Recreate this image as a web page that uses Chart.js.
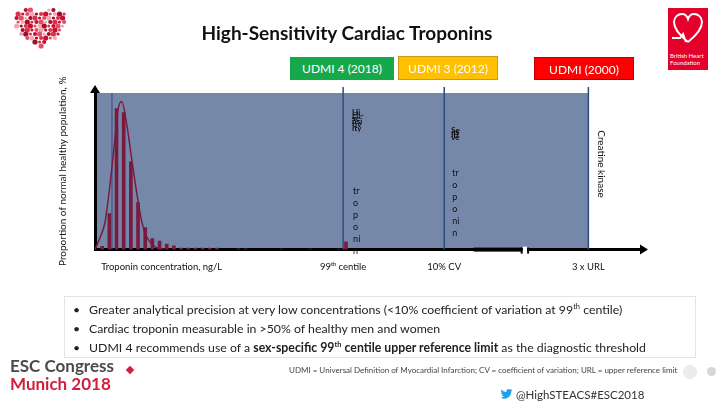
<!DOCTYPE html>
<html>
<head>
<meta charset="utf-8">
<script src="https://cdn.jsdelivr.net/npm/chart.js@4.4.0/dist/chart.umd.min.js"></script>
<style>
body { margin: 0; width: 720px; height: 405px; overflow: hidden; background: #fff; font-family: Lato, sans-serif; position: relative; }
.abs { position: absolute; }
#chart { position: absolute; left: 0; top: 0; }
.title { left: 0; width: 694px; top: 21px; text-align: center; font-weight: bold; font-size: 19px; color: #111; }
.tag { height: 23px; line-height: 23px; text-align: center; color: #fff; font-size: 12px; box-sizing: border-box; }
.bullets { left: 64px; top: 296px; width: 632px; height: 62px; border: 1px solid #e4e4e4; box-sizing: border-box; font-size: 12.3px; color: #222; }
.bullets div { position: absolute; left: 24px; white-space: nowrap; }
.bullets div:before { content: "\2022"; position: absolute; left: -16px; }
sup { font-size: 7.5px; line-height: 0; }
.foot { left: 289px; top: 365px; font-size: 8px; color: #444; white-space: nowrap; }
.esc { left: 10px; top: 357px; font-weight: bold; font-size: 17px; line-height: 18px; color: #4a4a4a; }
.esc span { color: #d11f3c; }
.tw { left: 500px; top: 388px; font-size: 11.5px; color: #333; }
</style>
</head>
<body>
<canvas id="chart" width="720" height="405"></canvas>
<canvas id="heart" class="abs" width="80" height="70" style="left:0;top:0"></canvas>
<div class="abs title">High-Sensitivity Cardiac Troponins</div>
<div class="abs tag" style="left:290px;top:57px;width:104px;background:#17a84b">UDMI 4 (2018)</div>
<div class="abs tag" style="left:398px;top:56px;width:100px;height:24px;background:#ffc000;border:1px solid #c99a1e">UDMI 3 (2012)</div>
<div class="abs tag" style="left:534px;top:57px;width:100px;background:#ff0000;border:1px solid #c00000">UDMI (2000)</div>
<div class="abs" style="left:668px;top:8px;width:40px;height:62px;background:#e4002b">
  <svg width="40" height="44" viewBox="0 0 40 44"><path d="M20 34 C10 26 6 20 6 14 C6 9 10 6 14 6 C17 6 19 8 20 11 C21 8 23 6 26 6 C30 6 34 9 34 14 C34 20 30 26 20 34 M4 30 L12 30 L15 26 L18 34" fill="none" stroke="#fff" stroke-width="2"/></svg>
  <div style="position:absolute;left:2px;top:44px;font-size:6px;line-height:7px;color:#fff">British Heart Foundation</div>
</div>
<div class="abs bullets">
  <div style="top:5px">Greater analytical precision at very low concentrations (&lt;10% coefficient of variation at 99<sup>th</sup> centile)</div>
  <div style="top:24px">Cardiac troponin measurable in &gt;50% of healthy men and women</div>
  <div style="top:43px">UDMI 4 recommends use of a <b>sex-specific 99<sup>th</sup> centile upper reference limit</b> as the diagnostic threshold</div>
</div>
<div class="abs foot">UDMI = Universal Definition of Myocardial Infarction; CV = coefficient of variation; URL = upper reference limit</div>
<div class="abs esc">ESC Congress<br><span>Munich 2018</span></div>
<div class="abs" style="left:127px;top:367px;width:6px;height:6px;background:#d11f3c;transform:rotate(45deg)"></div>
<div class="abs tw"><svg width="13" height="11" viewBox="0 0 24 20" style="vertical-align:-1px"><path d="M23 2c-.8.4-1.7.6-2.6.7.9-.6 1.6-1.4 2-2.5-.9.5-1.9.9-2.9 1.1C18.600.4 17.4 0 16.2 0c-2.500 0-4.500 2-4.500 4.500 0 .4 0 .7.1 1C8 5.3 4.700 3.500 2.500.8c-.4.7-.6 1.400-.6 2.300 0 1.600.8 2.900 2 3.700-.7 0-1.400-.2-2-.6v.1c0 2.200 1.600 4 3.600 4.400-.4.1-.8.2-1.200.2-.3 0-.6 0-.8-.1.6 1.800 2.200 3.100 4.200 3.100-1.500 1.200-3.500 1.900-5.600 1.900H1c2 1.300 4.400 2 6.900 2 8.300 0 12.800-6.900 12.800-12.800v-.6c.9-.6 1.600-1.400 2.300-2.300z" fill="#1da1f2"/></svg> @HighSTEACS#ESC2018</div>
<div class="abs" style="left:683px;top:365px;width:14px;height:14px;border-radius:7px;background:#ececec"></div>
<div class="abs" style="left:707px;top:367px;width:9px;height:9px;border-radius:5px;background:#d6d6d6"></div>
<script>
// distribution of troponin in a healthy population (x in bin units, y in %)
const binCentres = [1, 2, 3, 4, 5, 6, 7, 8, 9, 10, 11, 12, 13, 14, 15, 16, 17, 20, 21, 26, 30, 34, 35];
const binProportion = [2.1, 23, 90, 87.5, 56, 30, 14, 7, 5.4, 3.6, 2.4, 1, 1, 1, 1, 1, 1, 0.5, 0.5, 0.4, 0.4, 0.4, 5];
const curveX = [0, 0.7, 1.39, 2.23, 2.79, 3.2, 3.72, 4.46, 5.02, 5.86, 6.56, 7.25, 8.37, 9.76];
const curveY = [0, 7.7, 17.3, 47, 71, 89, 94.5, 79, 61, 35, 17, 7.7, 1.8, 0];
// thresholds on the concentration axis
const detectionLimit = 2.37;
const markerPositions = [34.6, 48.7, 68.8];
const tickPositions = [9.3, 34.6, 48.7, 68.8];
const tickLabels = ['Troponin concentration, ng/L', '99\u1d57\u02b0 centile', '10% CV', '3 x URL'];

const lineBlue = '#2d4c7e';
const maroon = '#7a1a3f';

const slidePlugin = {
  id: 'slide',
  beforeDraw(chart) {
    const {ctx, chartArea, scales: {x, y}} = chart;
    ctx.save();
    ctx.fillStyle = '#7688aa';
    const r = x.getPixelForValue(markerPositions[2]);
    ctx.fillRect(chartArea.left, y.getPixelForValue(100), r - chartArea.left, y.getPixelForValue(0) - y.getPixelForValue(100));
    ctx.restore();
  },
  beforeDatasetsDraw(chart) {
    const {ctx, chartArea, scales: {x}} = chart;
    ctx.save();
    ctx.strokeStyle = lineBlue;
    ctx.lineWidth = 1;
    let px = x.getPixelForValue(detectionLimit);
    ctx.beginPath(); ctx.moveTo(px, chartArea.top); ctx.lineTo(px, chartArea.bottom); ctx.stroke();
    ctx.lineWidth = 1.5;
    markerPositions.forEach(v => {
      px = x.getPixelForValue(v);
      ctx.beginPath(); ctx.moveTo(px, chartArea.top - 6); ctx.lineTo(px, chartArea.bottom); ctx.stroke();
    });
    ctx.restore();
  },
  afterDraw(chart) {
    const {ctx, chartArea, scales: {x}} = chart;
    const l = chartArea.left, b = chartArea.bottom, t = chartArea.top, r = chartArea.right;
    ctx.save();
    ctx.fillStyle = '#000';
    // arrow heads
    ctx.beginPath(); ctx.moveTo(l, t - 8); ctx.lineTo(l - 5, t); ctx.lineTo(l + 5, t); ctx.fill();
    ctx.beginPath(); ctx.moveTo(r + 8, b); ctx.lineTo(r, b - 5); ctx.lineTo(r, b + 5); ctx.fill();
    // axis break
    const b1 = x.getPixelForValue(59.5), b2 = x.getPixelForValue(60.4);
    ctx.fillStyle = '#fff';
    ctx.fillRect(b1 + 1, b - 3, b2 - b1 - 2, 6);
    ctx.fillStyle = '#000';
    ctx.fillRect(b1 - 1, b - 2, 2, 6);
    ctx.fillRect(b2 - 1, b - 2, 2, 6);
    ctx.fillRect(x.getPixelForValue(52.8), b - 2, b1 - x.getPixelForValue(52.8), 4);
    // labels in the plot
    ctx.fillStyle = '#111';
    ctx.font = '9px Lato';
    ctx.textBaseline = 'middle';
    const word = ['tr', 'o', 'p', 'o', 'ni', 'n'];
    const p99 = x.getPixelForValue(markerPositions[0]) + 10;
    const pcv = x.getPixelForValue(markerPositions[1]) + 8;
    word.forEach((w, i) => ctx.fillText(w, p99, t + 98 + i * 12));
    word.forEach((w, i) => ctx.fillText(w, pcv, t + 80 + i * 12));
    ctx.font = 'bold 8px Lato';
    ['Hi', 'gh-', 'se', 'nsi', 'tiv', 'ity'].forEach((w, i) => ctx.fillText(w, p99 - 1, t + 19 + i * 3.2));
    ['Se', 'ns', 'iti', 've'].forEach((w, i) => ctx.fillText(w, pcv - 1, t + 37 + i * 2.6));
    ctx.font = '10px Lato';
    ctx.translate(x.getPixelForValue(markerPositions[2]) + 13, t + 71);
    ctx.rotate(Math.PI / 2);
    ctx.textAlign = 'center';
    ctx.fillText('Creatine kinase', 0, 0);
    ctx.restore();
  }
};

new Chart(document.getElementById('chart'), {
  type: 'bar',
  data: {
    datasets: [{
      type: 'line',
      data: curveX.map((v, i) => ({x: v, y: curveY[i]})),
      borderColor: maroon,
      borderWidth: 1.5,
      pointRadius: 0,
      cubicInterpolationMode: 'monotone'
    }, {
      data: binCentres.map((v, i) => ({x: v, y: binProportion[i]})),
      backgroundColor: maroon,
      barThickness: 3
    }]
  },
  options: {
    responsive: false,
    animation: false,
    devicePixelRatio: 1,
    font: {family: 'Lato'},
    layout: {padding: {left: 57, top: 93, right: 80, bottom: 120}},
    plugins: {legend: {display: false}, tooltip: {enabled: false}},
    scales: {
      x: {
        type: 'linear', offset: false, min: 0, max: 76,
        grid: {display: false, drawTicks: false},
        border: {color: '#000', width: 3},
        afterBuildTicks: s => { s.ticks = tickPositions.map(v => ({value: v})); },
        ticks: {
          autoSkip: false, maxRotation: 0, padding: 12, color: '#111',
          font: {family: 'Lato', size: 9.5},
          callback: (v, i) => tickLabels[i]
        }
      },
      y: {
        min: 0, max: 100,
        grid: {display: false, drawTicks: false},
        border: {color: '#000', width: 3},
        ticks: {display: false},
        title: {display: true, text: 'Proportion of normal healthy population, %', color: '#111',
          font: {family: 'Lato', size: 10}, padding: {top: 0, bottom: 26}}
      }
    }
  },
  plugins: [slidePlugin]
});

// dotted heart logo
const hc = document.getElementById('heart').getContext('2d');
const shades = ['#c8102e', '#e0506a', '#f2a7b5', '#a50d25', '#d8324e'];
let k = 0;
for (let gy = 0; gy < 11; gy++) {
  for (let gx = 0; gx < 13; gx++) {
    const u = (gx - 6) / 5, w = (5 - gy) / 4.2;
    if (Math.pow(u * u + w * w - 1, 3) - u * u * w * w * w < 0) {
      hc.fillStyle = shades[k++ % shades.length];
      hc.beginPath();
      hc.arc(12 + gx * 4.6 + (gy % 2) * 1.5, 10 + gy * 4, 1.6 + (k % 3) * 0.5, 0, Math.PI * 2);
      hc.fill();
    }
  }
}
</script>
</body>
</html>
